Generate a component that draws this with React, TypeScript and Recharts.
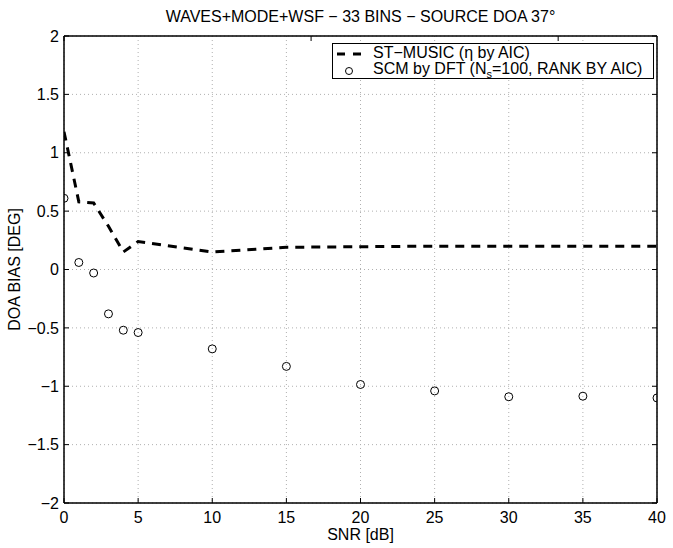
import React from "react";
import {
  ComposedChart,
  Line,
  XAxis,
  YAxis,
  CartesianGrid,
  Legend,
  ReferenceArea,
} from "recharts";

// SNR sweep in dB
const snrDb = [0, 1, 2, 3, 4, 5, 10, 15, 20, 25, 30, 35, 40];
// ST-MUSIC (eta by AIC) bias in degrees
const stMusicBias = [1.18, 0.58, 0.57, 0.37, 0.15, 0.24, 0.15, 0.19, 0.195, 0.2, 0.2, 0.2, 0.2];
// SCM by DFT (Ns=100, rank by AIC) bias in degrees
const scmDftBias = [0.61, 0.06, -0.03, -0.38, -0.52, -0.54, -0.68, -0.83, -0.985, -1.04, -1.09, -1.085, -1.1];

const xTicks = [0, 5, 10, 15, 20, 25, 30, 35, 40];
const yTicks = [-2, -1.5, -1, -0.5, 0, 0.5, 1, 1.5, 2];

const FONT = '"Liberation Sans", Arial, Helvetica, sans-serif';

const data = snrDb.map((snr, i) => ({
  snr,
  music: stMusicBias[i],
  scm: scmDftBias[i],
}));

const fmtY = (v: number) => String(v).replace("-", "\u2212");
const blank = () => "";

const tickStyle = { fill: "#000", fontSize: 16, fontFamily: FONT };

const LegendBox = () => (
  <div
    style={{
      width: 320,
      height: 33,
      border: "1px solid #000",
      background: "#fff",
      fontFamily: FONT,
      fontSize: 16,
      lineHeight: "16px",
      color: "#000",
      paddingTop: 1,
      whiteSpace: "nowrap",
    }}
  >
    <div style={{ display: "flex", alignItems: "center", height: 16 }}>
      <svg width={40} height={16} style={{ display: "block", flex: "none" }}>
        <line x1={4} y1={9} x2={30} y2={9} stroke="#000" strokeWidth={3} strokeDasharray="8 8" />
      </svg>
      <span>ST{"\u2212"}MUSIC ({"\u03b7"} by AIC)</span>
    </div>
    <div style={{ display: "flex", alignItems: "center", height: 16 }}>
      <svg width={40} height={16} style={{ display: "block", flex: "none" }}>
        <circle cx={16} cy={10} r={3.5} fill="none" stroke="#000" strokeWidth={1} />
      </svg>
      <span>
        SCM by DFT (N<sub style={{ fontSize: 11, lineHeight: 0 }}>s</sub>=100, RANK BY AIC)
      </span>
    </div>
  </div>
);

const App: React.FC = () => {
  return (
    <div style={{ position: "absolute", left: 0, top: 0, width: 673, height: 548, background: "#fff" }}>
      <div
        style={{
          position: "absolute",
          left: 64,
          width: 593,
          top: 8,
          textAlign: "center",
          fontFamily: FONT,
          fontSize: 16,
          color: "#000",
          whiteSpace: "nowrap",
        }}
      >
        WAVES+MODE+WSF {"\u2212"} 33 BINS {"\u2212"} SOURCE DOA 37°
      </div>
      <ComposedChart
        width={673}
        height={548}
        data={data}
        margin={{ top: 35, right: 15, bottom: 0, left: 0 }}
      >
        <CartesianGrid stroke="#b0b0b0" strokeDasharray="1 3" />
        <XAxis
          dataKey="snr"
          type="number"
          domain={[0, 40]}
          ticks={xTicks}
          allowDataOverflow
          height={45}
          axisLine={{ stroke: "#000" }}
          tickLine={{ stroke: "#000" }}
          tick={tickStyle}
          tickSize={-5}
          tickMargin={14}
          label={{
            value: "SNR [dB]",
            position: "insideBottom",
            offset: 8,
            style: { fill: "#000", fontSize: 16, fontFamily: FONT },
          }}
        />
        <XAxis
          xAxisId="top"
          orientation="top"
          type="number"
          domain={[0, 40]}
          ticks={xTicks}
          allowDataOverflow
          height={1}
          axisLine={{ stroke: "#000" }}
          tickLine={{ stroke: "#000" }}
          tickSize={-5}
          tickFormatter={blank}
        />
        <YAxis
          type="number"
          domain={[-2, 2]}
          ticks={yTicks}
          allowDataOverflow
          width={64}
          axisLine={{ stroke: "#000" }}
          tickLine={{ stroke: "#000" }}
          tick={tickStyle}
          tickSize={-5}
          tickMargin={10}
          tickFormatter={fmtY}
          label={{
            value: "DOA BIAS [DEG]",
            angle: -90,
            position: "insideLeft",
            offset: 14,
            style: { fill: "#000", fontSize: 16, fontFamily: FONT, textAnchor: "middle" },
          }}
        />
        <YAxis
          yAxisId="right"
          orientation="right"
          type="number"
          domain={[-2, 2]}
          ticks={yTicks}
          allowDataOverflow
          width={1}
          axisLine={{ stroke: "#000" }}
          tickLine={{ stroke: "#000" }}
          tickSize={-5}
          tickFormatter={blank}
        />
        <ReferenceArea
          x1={0}
          x2={40}
          y1={-2}
          y2={2}
          fill="none"
          stroke="#000"
          strokeWidth={1}
          ifOverflow="visible"
        />
        <Legend
          layout="horizontal"
          verticalAlign="middle"
          align="center"
          content={() => <LegendBox />}
          wrapperStyle={{ left: 332, top: 43, width: 322 }}
        />
        <Line
          type="linear"
          dataKey="music"
          stroke="#000"
          strokeWidth={3}
          strokeDasharray="9 7"
          dot={false}
          isAnimationActive={false}
        />
        <Line
          type="linear"
          dataKey="scm"
          stroke="none"
          dot={{ r: 4, fill: "none", stroke: "#000", strokeWidth: 1 }}
          activeDot={false}
          isAnimationActive={false}
        />
      </ComposedChart>
    </div>
  );
};

export default App;
